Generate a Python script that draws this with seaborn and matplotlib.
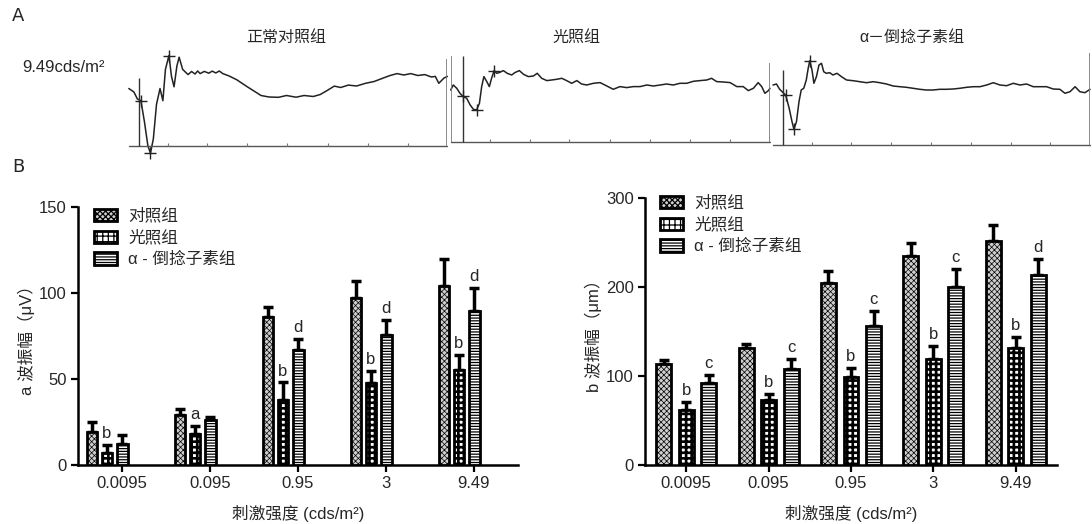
import numpy as np
import pandas as pd
import seaborn as sns
import matplotlib
matplotlib.use('Agg')
from matplotlib import pyplot as plt
from matplotlib.patches import Patch

# ---------------- data ----------------
doses = ['0.0095', '0.095', '0.95', '3', '9.49']
groups = ['对照组', '光照组', 'α - 倒捻子素组']

a_mean = {'对照组': [19, 29, 86, 97, 104],
          '光照组': [7, 18, 38, 47.5, 55],
          'α - 倒捻子素组': [12, 26, 67, 75.5, 89.7]}
a_sd = {'对照组': [6, 3.5, 6, 10, 16],
        '光照组': [4.6, 4.5, 10, 7, 9],
        'α - 倒捻子素组': [5.4, 2, 6.5, 9, 13]}
a_letters = {'光照组': ['b', 'a', 'b', 'b', 'b'],
             'α - 倒捻子素组': ['', '', 'd', 'd', 'd']}

b_mean = {'对照组': [114, 131, 205, 235, 252],
          '光照组': [62, 72.5, 98.5, 119, 131],
          'α - 倒捻子素组': [92, 108, 156, 200, 213]}
b_sd = {'对照组': [3.5, 5.5, 13, 15, 18],
        '光照组': [8.7, 7, 10.5, 15, 13],
        'α - 倒捻子素组': [9.5, 11, 17.5, 20, 18]}
b_letters = {'光照组': ['b', 'b', 'b', 'b', 'b'],
             'α - 倒捻子素组': ['c', 'c', 'c', 'c', 'd']}

# ERG traces (time 0-100, amplitude in px above baseline)
tr1_t = [0, 1.6, 2.7, 3.8, 4.9, 6.0, 6.8, 7.7, 8.7, 9.8, 10.7, 11.5, 12.6, 13.4, 14.2, 15.1, 15.8,
         16.9, 18.6, 19.7, 20.8, 21.6, 22.4, 23.7, 25.1, 26.2, 27.3, 28.4, 29.5, 31.5, 33.9, 37.2,
         41.5, 44.0, 47.0, 49.5, 52.5, 55.0, 57.9, 60.1, 62.0, 64.5, 66.5, 68.9, 71.5, 74.3, 77.0,
         79.8, 82.0, 84.2, 86.3, 88.5, 90.7, 92.9, 95.0, 96.2, 97.3, 98.9, 100]
tr1_a = [57.5, 54, 47, 45.3, 24.4, 0, -7, 7, 41.8, 57.5, 45.3, 76.6, 90.5, 69.6, 59.2, 80.1, 88.8,
         76.6, 71.4, 74.5, 72.0, 75.0, 72.4, 74.6, 72.8, 74.9, 73.0, 75.0, 72.4, 70.0, 66.2, 59.2,
         50.5, 49.0, 48.7, 50.5, 48.8, 50.5, 49.5, 51.5, 55.0, 59.9, 58.5, 60.9, 60.0, 62.7, 64.5,
         67.9, 70.5, 72.4, 71.0, 72.4, 70.5, 71.4, 69.0, 69.6, 62.7, 67.9, 69.6]
tr2_t = [0, 0.8, 1.9, 2.9, 3.7, 5.0, 6.1, 7.1, 8.1, 9.0, 9.7, 10.4, 11.3, 12.1, 12.8, 13.6, 14.4,
         15.2, 16.5, 17.7, 19.1, 20.1, 21.5, 22.8, 24.3, 25.9, 27.1, 28.5, 30.1, 31.6, 33.2, 34.8,
         36.3, 37.9, 39.5, 41.0, 42.6, 44.7, 46.8, 48.9, 50.9, 53.0, 55.1, 57.2, 59.3, 61.4, 63.5,
         65.6, 67.6, 69.7, 71.8, 73.9, 76.0, 78.1, 80.2, 81.7, 83.3, 85.4, 87.5, 89.6, 91.6, 93.2,
         94.8, 96.3, 97.4, 98.4, 99.5, 100]
tr2_a = [52.3, 57.3, 54, 49, 46.3, 44, 37.3, 33, 32.3, 39, 55.7, 65.7, 60.7, 55.7, 64, 71.7, 69,
         69.7, 71.7, 69, 67.3, 69.7, 71.7, 68, 65.7, 66.3, 69, 64, 61.7, 62.3, 63, 64,
         61.7, 59, 61.7, 58.3, 57.3, 59, 59.7, 56.3, 53, 55.7, 54.7, 55.7, 55.7, 57.3, 56.3,
         57.3, 58.3, 57.3, 59, 59, 61, 61.7, 62.3, 64, 60.7, 60.3, 59.7, 55.7, 55.7, 51.7,
         54, 59.7, 55.7, 49, 51.7, 54]
tr3_t = [0, 1.1, 2.1, 3.2, 4.0, 5.1, 6.0, 6.6, 7.4, 8.2, 8.9, 9.7, 10.5, 11.1, 11.6, 12.3, 12.9,
         13.7, 14.5, 15.3, 16.0, 16.8, 17.9, 18.9, 20.2, 21.6, 23.2, 25.3, 27.4, 29.5, 31.6, 33.7,
         35.8, 37.9, 40.0, 42.1, 44.2, 46.3, 48.4, 50.5, 52.6, 54.7, 56.8, 58.9, 61.1, 63.2, 65.3,
         67.4, 69.5, 71.6, 73.7, 75.8, 77.9, 80.0, 82.1, 84.2, 86.3, 88.4, 90.5, 92.1, 93.7, 95.3,
         96.8, 98.4, 100]
tr3_a = [60, 61, 55.7, 52.3, 50, 36.7, 23.3, 15.7, 23.3, 43.3, 55, 56.7, 65, 76.7, 84.3, 75, 61.7,
         68.3, 80, 81.7, 73.3, 71.7, 72.3, 70, 71.7, 68.3, 65, 64.3, 63.3, 62.3, 63.3, 62.3,
         61, 59, 58.3, 57.7, 56.7, 55.7, 55, 55, 55.7, 55.7, 56, 56.7, 57.7, 58.3, 58.3,
         60, 62.3, 60, 59.3, 61.7, 60, 61, 58.3, 58.3, 58.3, 56, 55.7, 51.7, 53.3, 58.3,
         53.3, 52.3, 55.7]
tr_marks = [[(3.8, 45.3), (6.8, -7), (12.6, 90.5)],
            [(3.7, 46.3), (8.1, 32.3), (13.6, 71.7)],
            [(4.0, 50), (6.6, 15.7), (11.6, 84.3)]]
trace_titles = ['正常对照组', '光照组', 'α－倒捻子素组']
grid_t = [12.2, 24.7, 37.2, 49.8, 62.4, 75.0, 87.5]

# ---------------- style ----------------
sns.set_theme(style='ticks')
plt.rcParams['font.family'] = ['Liberation Sans', 'Noto Sans CJK SC', 'DejaVu Sans']
plt.rcParams['hatch.linewidth'] = 0.9
plt.rcParams['axes.linewidth'] = 1.6

W, H = 1092, 524
fig = plt.figure(figsize=(W / 100, H / 100), dpi=100)


def px(x, y):
    return x / W, 1 - y / H


def px_box(x0, y0, x1, y1):
    return [x0 / W, 1 - y1 / H, (x1 - x0) / W, (y1 - y0) / H]


# fill / hatch / hatch linewidth per group
bar_fill = ['#cfcfcf', 'white', 'white']
hatches = ['xxxxxx', '+++', '------']
hatch_lw = [0.5, 1.9, 0.9]


def style_patch(p, k):
    p.set_facecolor(bar_fill[k])
    p.set_edgecolor('black')
    p.set_hatch(hatches[k])
    if hasattr(p, 'set_hatch_linewidth'):
        p.set_hatch_linewidth(hatch_lw[k])


# ---------------- panel A: traces ----------------
fig.text(*px(12, 16), 'A', fontsize=13, family='DejaVu Sans', va='center')
fig.text(*px(22, 68), '9.49cds/m²', fontsize=12, va='center')

trace_boxes = [(128.8, 447.4, 146), (450.7, 770, 142.3), (773, 1090, 145)]
vline_t = [3.3, 3.7, 3.2]
vline_h = [68, 86, 75]
edge_h = [87, 79, 92]
title_x = [286, 576, 912]
traces = [(tr1_t, tr1_a), (tr2_t, tr2_a), (tr3_t, tr3_a)]

for i, (x0, x1, base) in enumerate(trace_boxes):
    tax = fig.add_axes(px_box(x0, base - 100, x1, base + 12))
    tax.set_xlim(0, 100)
    tax.set_ylim(-12, 100)
    tax.axis('off')
    t, a = traces[i]
    sns.lineplot(x=t, y=a, ax=tax, color='#222222', lw=1.1, sort=False, estimator=None)
    tax.plot([0, 100], [0, 0], color='#555555', lw=1)
    tax.vlines(grid_t, 0, 3, color='#777777', lw=0.8)
    tax.vlines(vline_t[i], 0, vline_h[i], color='#333333', lw=1)
    tax.vlines(100, 0, edge_h[i], color='#777777', lw=1.2)
    if i == 1:
        tax.vlines(0, 0, 86, color='#777777', lw=1.2)
    mx, my = zip(*tr_marks[i])
    tax.plot(mx, my, '+', color='#222222', ms=8, mew=1)
    for ln in tax.lines:
        ln.set_clip_on(False)
    fig.text(*px(title_x[i], 37), trace_titles[i], fontsize=11.5, ha='center', va='center')

# ---------------- panel B: bars ----------------
fig.text(*px(12, 167), 'B', fontsize=13, family='DejaVu Sans', va='center')

handles = []
for k, g in enumerate(groups):
    h = Patch(lw=2, label=g)
    style_patch(h, k)
    handles.append(h)


def bar_panel(ax, means, sds, letters, offset, width, gap, ymax, yticks, ylabel, legend_xy):
    rows = []
    for g in groups:
        for k in range(len(doses)):
            rows.append({'x': k + offset, 'group': g, 'val': means[g][k]})
    df = pd.DataFrame(rows)
    sns.barplot(data=df, x='x', y='val', hue='group', hue_order=groups, native_scale=True,
                width=width, gap=gap, errorbar=None, ax=ax, legend=False,
                facecolor='white', edgecolor='black', linewidth=2)
    bar_conts = list(ax.containers)
    for ci, cont in enumerate(bar_conts[:len(groups)]):
        g = groups[ci]
        xs, ys = [], []
        for p in cont.patches:
            style_patch(p, ci)
            p.set_zorder(3)
            xs.append(p.get_x() + p.get_width() / 2)
            ys.append(p.get_height())
        err = np.array(sds[g])
        ax.errorbar(xs, ys, yerr=[np.zeros_like(err), err], fmt='none', ecolor='black',
                    elinewidth=2.5, capsize=3.5, capthick=2.5, zorder=2)
        if g in letters:
            for x, y, e, lab in zip(xs, ys, err, letters[g]):
                if lab:
                    ax.text(x, y + e + ymax * 0.015, lab, ha='center', va='bottom', fontsize=12)
    ax.set_xlim(-0.5, 4.5)
    ax.set_ylim(0, ymax)
    ax.set_xticks(range(len(doses)))
    ax.set_xticklabels(doses, fontsize=12)
    ax.set_yticks(yticks)
    ax.set_yticklabels([str(v) for v in yticks], fontsize=12)
    ax.tick_params(axis='both', direction='out', length=5, width=1.6, color='black', pad=3)
    ax.set_xlabel('刺激强度 (cds/m²)', fontsize=12, labelpad=10)
    ax.set_ylabel(ylabel, fontsize=12, labelpad=3)
    sns.despine(ax=ax)
    for s in ['left', 'bottom']:
        ax.spines[s].set_color('black')
        ax.spines[s].set_linewidth(1.8)
    ax.set_facecolor('white')
    ax.legend(handles=handles, loc='upper left', bbox_to_anchor=px(*legend_xy),
              bbox_transform=fig.transFigure, frameon=False, fontsize=12,
              handlelength=1.35, handleheight=0.75, labelspacing=0.38,
              handletextpad=0.7, borderpad=0, borderaxespad=0)


ax1 = fig.add_axes(px_box(78, 207, 518, 465))
bar_panel(ax1, a_mean, a_sd, a_letters, -0.17, 0.52, 0.31, 150, [0, 50, 100, 150],
          'a 波振幅（μV）', (94, 208))

ax2 = fig.add_axes(px_box(645, 198, 1057, 465))
bar_panel(ax2, b_mean, b_sd, b_letters, 0.0, 0.82, 0.34, 300, [0, 100, 200, 300],
          'b 波振幅（μm）', (660, 195))

plt.savefig('out.png', dpi=100, facecolor='white')
